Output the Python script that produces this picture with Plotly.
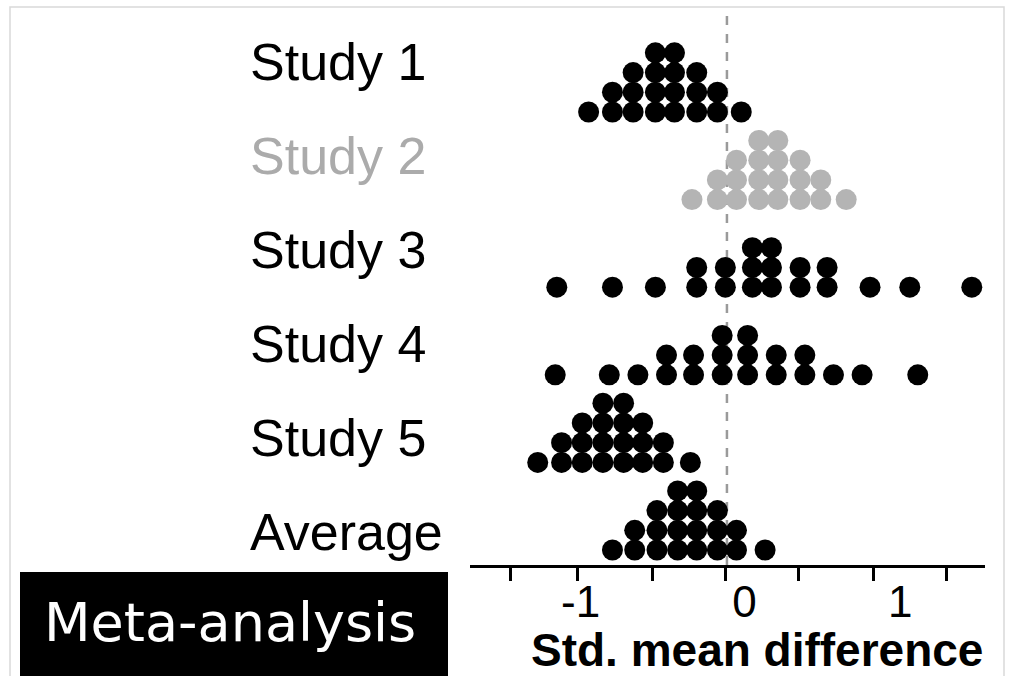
import plotly.graph_objects as go

# ---------------- data ----------------
CATEGORIES = ["Study 1", "Study 2", "Study 3", "Study 4", "Study 5", "Average"]

# dot-plot bins: x position of each column and number of stacked dots
S1_X = [-0.87, -0.72, -0.59, -0.45, -0.33, -0.19, -0.06, 0.09]
S1_N = [1, 2, 3, 4, 4, 3, 2, 1]
S2_X = [-0.22, -0.06, 0.06, 0.20, 0.32, 0.46, 0.59, 0.75]
S2_N = [1, 2, 3, 4, 4, 3, 2, 1]
S3_X = [-1.07, -0.72, -0.45, -0.19, -0.01, 0.16, 0.28, 0.46, 0.63, 0.90, 1.15, 1.54]
S3_N = [1, 1, 1, 2, 2, 3, 3, 2, 2, 1, 1, 1]
S4_X = [-1.08, -0.74, -0.56, -0.38, -0.21, -0.03, 0.13, 0.31, 0.49, 0.67, 0.85, 1.20]
S4_N = [1, 1, 1, 2, 2, 3, 3, 2, 2, 1, 1, 1]
S5_X = [-1.19, -1.04, -0.91, -0.78, -0.65, -0.53, -0.40, -0.23]
S5_N = [1, 2, 3, 4, 4, 3, 2, 1]
AVG_X = [-0.72, -0.58, -0.44, -0.31, -0.19, -0.06, 0.06, 0.24]
AVG_N = [1, 2, 3, 4, 4, 3, 2, 1]

TICK_MARKS = [-1.36, -0.94, -0.47, -0.01, 0.45, 0.92, 1.38]
TICK_LABELS = ["-1", "0", "1"]
TICK_LABEL_POS = [-0.92, 0.11, 1.09]

X_TITLE = "Std. mean difference"
BOX_TEXT = "Meta-analysis"

# ---------------- styling ----------------
SERIES = [(S1_X, S1_N), (S2_X, S2_N), (S3_X, S3_N), (S4_X, S4_N), (S5_X, S5_N), (AVG_X, AVG_N)]
COLORS = ["#000000", "#b4b4b4", "#000000", "#000000", "#000000", "#000000"]
LABEL_COLORS = ["#000000", "#ababab", "#000000", "#000000", "#000000", "#000000"]
STACK = 0.225          # vertical step between stacked dots (row units)
LABEL_TOP = 5.565      # label position of first category (row units)
LABEL_STEP = 1.071

W, H = 1015, 676
L, R, T, B = 470, 30, 8, 111
XR = [-1.616, 1.623]
YR = [-0.171, 6.187]
PW, PH = W - L - R, H - T - B


def px_x(p):
    return (p - L) / PW


def px_y(p):
    return (H - B - p) / PH


FONT = "Liberation Sans, Arial, Helvetica, sans-serif"

fig = go.Figure()
n = len(CATEGORIES)
for i, (xs, ns) in enumerate(SERIES):
    base = n - 1 - i
    px, py = [], []
    for x, c in zip(xs, ns):
        for k in range(c):
            px.append(x)
            py.append(base + k * STACK)
    fig.add_trace(go.Scatter(
        x=px, y=py, mode="markers", name=CATEGORIES[i], showlegend=False,
        marker=dict(size=21, color=COLORS[i], line=dict(width=0)),
        cliponaxis=False, hoverinfo="x+name"))

# helper trace so the label axis is drawn
fig.add_trace(go.Scatter(x=[None], y=[None], xaxis="x2", yaxis="y",
                         showlegend=False, hoverinfo="skip"))

annotations = []
for i, cat in enumerate(CATEGORIES):
    annotations.append(dict(
        text=cat, xref="paper", yref="y", x=px_x(248), y=LABEL_TOP - i * LABEL_STEP,
        xanchor="left", yanchor="middle", showarrow=False,
        font=dict(family=FONT, size=52, color=LABEL_COLORS[i])))
annotations.append(dict(
    text=BOX_TEXT, xref="paper", yref="paper", x=px_x(230), y=px_y(622),
    xanchor="center", yanchor="middle", showarrow=False,
    font=dict(family="DejaVu Sans, Noto Sans, sans-serif", size=54, color="white")))
annotations.append(dict(
    text="<b>" + X_TITLE + "</b>", xref="paper", yref="paper", x=px_x(757), y=px_y(650),
    xanchor="center", yanchor="middle", showarrow=False,
    font=dict(family=FONT, size=46, color="black")))

shapes = [
    # reference line at zero
    dict(type="line", xref="x", yref="paper", x0=0, x1=0, y0=0, y1=1,
         line=dict(color="#9a9a9a", width=2.5, dash="dash"), layer="below"),
    # black caption box
    dict(type="rect", xref="paper", yref="paper", x0=px_x(20), x1=px_x(448),
         y0=px_y(690), y1=px_y(572), fillcolor="black", line=dict(width=0), layer="below"),
    # faint frame
    dict(type="rect", xref="paper", yref="paper", x0=px_x(10), x1=px_x(1004),
         y0=px_y(700), y1=px_y(7), line=dict(color="#d9d9d9", width=1.5), layer="below"),
]

fig.update_layout(
    width=W, height=H, autosize=False,
    margin=dict(l=L, r=R, t=T, b=B, pad=0),
    paper_bgcolor="white", plot_bgcolor="white",
    xaxis=dict(range=XR, showgrid=False, zeroline=False, showline=True,
               linecolor="black", linewidth=3, ticks="outside", ticklen=13,
               tickwidth=3, tickcolor="black", tickvals=TICK_MARKS,
               showticklabels=False, automargin=False, fixedrange=True),
    xaxis2=dict(range=XR, overlaying="x", anchor="y", side="bottom",
                showgrid=False, zeroline=False, showline=False, ticks="",
                tickvals=TICK_LABEL_POS, ticktext=TICK_LABELS,
                tickfont=dict(family=FONT, size=44, color="black"),
                ticklabelstandoff=7, automargin=False),
    yaxis=dict(range=YR, visible=False, showgrid=False, zeroline=False,
               automargin=False, fixedrange=True),
    annotations=annotations, shapes=shapes,
)

fig.write_html("out.html", config={"displayModeBar": False},
               post_script="document.body.style.margin='0';")
